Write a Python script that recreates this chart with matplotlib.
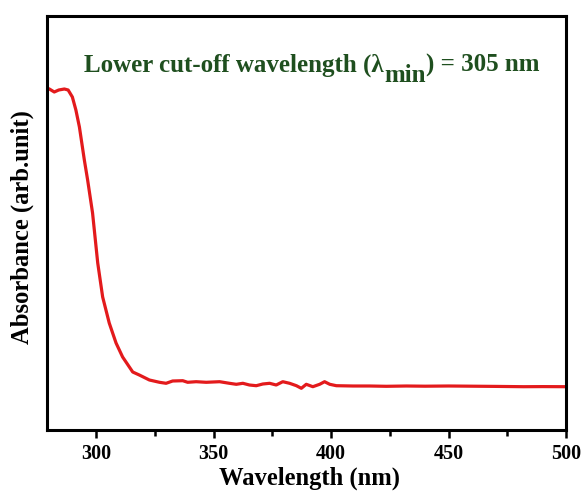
import matplotlib
matplotlib.use("Agg")
import matplotlib.pyplot as plt

wavelength = [279, 280, 282.1, 284, 286.4, 288, 289.8, 291.3, 292.8, 294.9, 296.3, 298.4,
              300.6, 302.7, 305.5, 308.4, 311.2, 315.5, 318.3, 322.6, 326.9, 329.7, 332.5,
              336.8, 338.9, 342.5, 346.8, 352.5, 356.7, 359.6, 362.4, 365.2, 368.1, 370.9,
              373.8, 376.6, 379.4, 382.3, 385.2, 387.3, 389.4, 392.2, 395.1, 397.2, 399.4,
              402.2, 409.3, 416.4, 423.5, 432, 440, 450, 460, 470, 482, 490, 500]
absorbance = [342, 341, 338, 340, 341, 340, 333, 320, 303, 270, 250, 217,
              167, 133, 107, 87, 73, 58, 55, 50, 47.7, 46.7, 49,
              49.3, 47.7, 48.3, 47.7, 48.3, 46.7, 45.7, 46.7, 45, 44.3, 46,
              46.7, 45, 48.3, 46.7, 44.3, 41.7, 45.7, 43.3, 45.7, 48.3, 45.7,
              44.3, 44, 44, 43.7, 44, 43.8, 44, 43.8, 43.6, 43.3, 43.4, 43.3]

xticks = [300, 350, 400, 450, 500]
minor_xticks = [325, 375, 425, 475]
note_main = "Lower cut-off wavelength (\u03bb"
note_sub = "min"
note_end = ") = 305 nm"

plt.rcParams['font.family'] = 'Liberation Serif'
plt.rcParams['font.weight'] = 'bold'

W, H = 582, 496
fig = plt.figure(figsize=(W / 100, H / 100), dpi=100)
ax = fig.add_axes([47 / W, 1 - 430 / H, 519 / W, 414 / H])
ax.plot(wavelength, absorbance, color='#e31a1c', lw=2.3)
ax.set_xlim(279, 500)
ax.set_ylim(0, 414)
ax.set_xticks(xticks)
ax.set_xticks(minor_xticks, minor=True)
ax.set_yticks([])
ax.tick_params(axis='x', which='major', direction='out', length=6, width=1.8, labelsize=14.5, pad=4)
ax.tick_params(axis='x', which='minor', direction='out', length=4, width=1.8)
for s in ax.spines.values():
    s.set_linewidth(2.2)
ax.set_xlabel('Wavelength (nm)', fontsize=17.7, fontweight='bold')
ax.xaxis.set_label_coords(0.506, -0.089)
ax.xaxis.label.set_va('top')
ax.set_ylabel('Absorbance (arb.unit)', fontsize=17.7, fontweight='bold')
ax.yaxis.set_label_coords(-0.025, 0.49)

green = '#1f4f1f'
fs = 18
t1 = fig.text(84 / W, 1 - 72 / H, note_main, ha='left', va='baseline',
              fontsize=fs, fontweight='bold', color=green)
fig.canvas.draw()
r = fig.canvas.get_renderer()
bb1 = t1.get_window_extent(r)
t2 = fig.text(bb1.x1 / W + 1 / W, 1 - 82 / H, note_sub, ha='left', va='baseline',
              fontsize=fs, fontweight='bold', color=green)
bb2 = t2.get_window_extent(r)
t3 = fig.text(bb2.x1 / W, 1 - 72 / H, note_end, ha='left', va='baseline',
              fontsize=fs, fontweight='bold', color=green)
fig.savefig('out.png', dpi=100)
